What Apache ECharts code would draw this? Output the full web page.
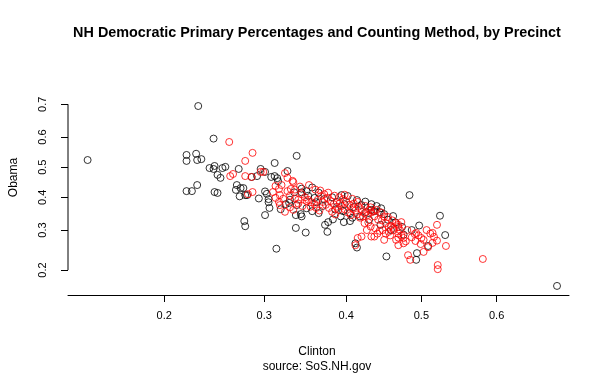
<!DOCTYPE html>
<html>
<head>
<meta charset="utf-8">
<script src="https://cdn.jsdelivr.net/npm/echarts@6/dist/echarts.min.js"></script>
<style>
html, body { margin: 0; padding: 0; background: #fff; }
#chart { width: 610px; height: 377px; }
</style>
</head>
<body>
<div id="chart"></div>
<script>
// share of the vote per precinct: [Clinton, Obama]
var handCounted = [
    [0.142, 0.524], [0.231, 0.695], [0.246, 0.595],
    [0.220, 0.541], [0.220, 0.521], [0.229, 0.545], [0.230, 0.524], [0.234, 0.527],
    [0.242, 0.497], [0.247, 0.504], [0.246, 0.494], [0.250, 0.474], [0.253, 0.464],
    [0.255, 0.497], [0.258, 0.501], [0.272, 0.494],
    [0.220, 0.420], [0.225, 0.420], [0.230, 0.440], [0.247, 0.417], [0.250, 0.414],
    [0.270, 0.440], [0.269, 0.424], [0.273, 0.403], [0.274, 0.430], [0.277, 0.430],
    [0.279, 0.407], [0.281, 0.407],
    [0.338, 0.538], [0.312, 0.514], [0.327, 0.487],
    [0.296, 0.494], [0.301, 0.484], [0.308, 0.467], [0.312, 0.470], [0.316, 0.453],
    [0.315, 0.463], [0.292, 0.470], [0.286, 0.467],
    [0.294, 0.396], [0.301, 0.419], [0.303, 0.411], [0.305, 0.394], [0.305, 0.384],
    [0.306, 0.366], [0.319, 0.362], [0.301, 0.344], [0.278, 0.326], [0.279, 0.311],
    [0.314, 0.250], [0.337, 0.344], [0.343, 0.347], [0.344, 0.340], [0.337, 0.306],
    [0.349, 0.293], [0.325, 0.378], [0.329, 0.382], [0.330, 0.392], [0.335, 0.416],
    [0.338, 0.375], [0.344, 0.416], [0.373, 0.315], [0.376, 0.295], [0.377, 0.323],
    [0.453, 0.231], [0.414, 0.253], [0.412, 0.264], [0.397, 0.323], [0.405, 0.326],
    [0.484, 0.407], [0.525, 0.342], [0.532, 0.286], [0.509, 0.257], [0.494, 0.239],
    [0.493, 0.223], [0.675, 0.168],
    [0.462, 0.341], [0.450, 0.347], [0.444, 0.353], [0.437, 0.356],
    [0.394, 0.407], [0.402, 0.404], [0.414, 0.391], [0.420, 0.375], [0.382, 0.400],
    [0.372, 0.394], [0.360, 0.398], [0.352, 0.405], [0.388, 0.385], [0.398, 0.378],
    [0.410, 0.369], [0.425, 0.386], [0.433, 0.378], [0.440, 0.372], [0.446, 0.365],
    [0.433, 0.360], [0.426, 0.353], [0.418, 0.340], [0.408, 0.336], [0.393, 0.340],
    [0.383, 0.331], [0.365, 0.350], [0.357, 0.356], [0.350, 0.365], [0.362, 0.384],
    [0.370, 0.372], [0.386, 0.361], [0.396, 0.356], [0.405, 0.350],
    [0.455, 0.330], [0.465, 0.322], [0.474, 0.309], [0.487, 0.300], [0.497, 0.313],
    [0.476, 0.287], [0.459, 0.300], [0.445, 0.315], [0.430, 0.330],
    [0.350, 0.420], [0.357, 0.432], [0.365, 0.415], [0.344, 0.428]
];
var machineCounted = [
    [0.262, 0.584], [0.287, 0.548], [0.279, 0.521],
    [0.263, 0.470], [0.266, 0.477], [0.279, 0.470], [0.286, 0.467], [0.296, 0.484],
    [0.299, 0.484], [0.324, 0.480], [0.327, 0.464], [0.287, 0.417], [0.282, 0.410],
    [0.310, 0.417], [0.313, 0.437], [0.318, 0.407], [0.317, 0.427], [0.320, 0.440],
    [0.333, 0.454], [0.334, 0.450], [0.331, 0.427], [0.324, 0.354],
    [0.415, 0.278], [0.412, 0.259], [0.420, 0.282], [0.433, 0.282], [0.441, 0.290],
    [0.448, 0.300], [0.450, 0.273], [0.437, 0.282], [0.456, 0.309], [0.462, 0.306],
    [0.469, 0.309], [0.469, 0.279], [0.466, 0.273],
    [0.582, 0.225], [0.521, 0.315], [0.533, 0.257], [0.522, 0.211], [0.522, 0.202],
    [0.515, 0.292], [0.517, 0.281], [0.521, 0.271], [0.515, 0.265], [0.503, 0.242],
    [0.509, 0.254], [0.503, 0.273], [0.500, 0.278], [0.482, 0.234], [0.485, 0.223],
    [0.493, 0.292], [0.491, 0.289], [0.481, 0.300], [0.473, 0.323], [0.469, 0.315],
    [0.471, 0.300], [0.459, 0.312], [0.463, 0.300], [0.456, 0.295], [0.469, 0.290],
    [0.473, 0.285], [0.476, 0.278], [0.479, 0.269], [0.476, 0.264], [0.469, 0.259],
    [0.424, 0.320], [0.429, 0.322], [0.422, 0.340], [0.433, 0.352], [0.437, 0.340],
    [0.442, 0.330], [0.440, 0.360], [0.446, 0.352], [0.450, 0.340],
    [0.344, 0.410], [0.348, 0.400], [0.352, 0.392], [0.356, 0.384], [0.360, 0.378],
    [0.364, 0.392], [0.368, 0.404], [0.372, 0.410], [0.376, 0.398], [0.380, 0.388],
    [0.384, 0.378], [0.388, 0.370], [0.392, 0.382], [0.396, 0.394], [0.400, 0.386],
    [0.404, 0.376], [0.408, 0.366], [0.412, 0.358], [0.416, 0.370], [0.420, 0.362],
    [0.424, 0.350], [0.428, 0.344], [0.432, 0.368], [0.436, 0.356],
    [0.340, 0.380], [0.345, 0.372], [0.350, 0.388], [0.355, 0.370], [0.362, 0.366],
    [0.366, 0.358], [0.370, 0.385], [0.374, 0.376], [0.378, 0.366], [0.382, 0.354],
    [0.386, 0.346], [0.390, 0.360], [0.394, 0.372], [0.398, 0.362], [0.402, 0.352],
    [0.406, 0.344], [0.410, 0.380], [0.414, 0.346], [0.418, 0.336],
    [0.330, 0.405], [0.336, 0.396], [0.340, 0.392], [0.327, 0.420], [0.336, 0.425],
    [0.342, 0.435], [0.353, 0.440], [0.361, 0.425], [0.367, 0.422], [0.377, 0.415],
    [0.385, 0.405], [0.391, 0.400], [0.322, 0.395], [0.317, 0.385], [0.313, 0.398],
    [0.318, 0.375], [0.330, 0.368], [0.334, 0.360], [0.408, 0.395], [0.415, 0.385],
    [0.425, 0.372], [0.430, 0.360], [0.398, 0.408],
    [0.452, 0.320], [0.447, 0.328], [0.455, 0.338], [0.461, 0.328], [0.466, 0.320],
    [0.458, 0.285], [0.452, 0.290], [0.444, 0.298], [0.438, 0.305], [0.432, 0.310],
    [0.427, 0.300], [0.487, 0.280], [0.496, 0.285], [0.499, 0.262], [0.492, 0.270],
    [0.507, 0.300], [0.512, 0.290]
];
var xTicks = [0.2, 0.3, 0.4, 0.5, 0.6];
var yTicks = [0.2, 0.3, 0.4, 0.5, 0.6, 0.7];
var xLimits = [0.1296, 0.689];
var yLimits = [0.1516, 0.809];

// both axes are on the logit scale
function logit(p) {
    return Math.log(p / (1 - p));
}
function invLogit(v) {
    return 1 / (1 + Math.exp(-v));
}
function toLogit(list) {
    return list.map(function (d) {
        return [logit(d[0]), logit(d[1])];
    });
}

var chart = echarts.init(document.getElementById('chart'));
var font = 'Liberation Sans, Arial, sans-serif';
var xMin = logit(xLimits[0]);

var option = {
    animation: false,
    title: [{
        text: 'NH Democratic Primary Percentages and Counting Method, by Precinct',
        left: 317, top: 26, textAlign: 'center', padding: 0,
        textStyle: {fontFamily: font, fontSize: 14.4, fontWeight: 'bold', color: '#000'}
    }, {
        text: 'Clinton',
        left: 317, top: 346, textAlign: 'center', padding: 0,
        textStyle: {fontFamily: font, fontSize: 12, fontWeight: 'normal', color: '#000'}
    }, {
        text: 'source: SoS.NH.gov',
        left: 317, top: 361, textAlign: 'center', padding: 0,
        textStyle: {fontFamily: font, fontSize: 12, fontWeight: 'normal', color: '#000'}
    }],
    grid: {left: 65, right: 41, top: 60, bottom: 82},
    xAxis: {
        type: 'value',
        min: logit(xLimits[0]),
        max: logit(xLimits[1]),
        splitLine: {show: false},
        axisLine: {onZero: false, lineStyle: {color: '#000', width: 1}},
        axisTick: {customValues: xTicks.map(logit), length: 7, lineStyle: {color: '#000'}},
        axisLabel: {
            customValues: xTicks.map(logit),
            margin: 15,
            fontFamily: font, fontSize: 11, color: '#000',
            formatter: function (v) { return invLogit(v).toFixed(1); }
        }
    },
    yAxis: {
        type: 'value',
        min: logit(yLimits[0]),
        max: logit(yLimits[1]),
        name: 'Obama',
        nameLocation: 'middle',
        nameRotate: 90,
        nameGap: 48,
        nameTextStyle: {fontFamily: font, fontSize: 12, color: '#000'},
        splitLine: {show: false},
        axisLine: {show: false, onZero: false},
        axisTick: {show: true, customValues: yTicks.map(logit), length: 7, lineStyle: {color: '#000'}},
        axisLabel: {
            customValues: yTicks.map(logit),
            rotate: 90,
            margin: 20,
            fontFamily: font, fontSize: 11, color: '#000',
            formatter: function (v) { return invLogit(v).toFixed(1); }
        }
    },
    series: [{
        name: 'y axis line',
        type: 'line',
        data: [[xMin, logit(yTicks[0])], [xMin, logit(yTicks[yTicks.length - 1])]],
        clip: false,
        symbol: 'none',
        silent: true,
        lineStyle: {color: '#000', width: 1}
    }, {
        name: 'Hand count',
        type: 'scatter',
        data: toLogit(handCounted),
        symbol: 'circle',
        symbolSize: 7,
        itemStyle: {color: 'rgba(0,0,0,0)', borderColor: '#000', borderWidth: 1},
        emphasis: {disabled: true}
    }, {
        name: 'Machine count',
        type: 'scatter',
        data: toLogit(machineCounted),
        symbol: 'circle',
        symbolSize: 7,
        itemStyle: {color: 'rgba(0,0,0,0)', borderColor: '#ff0000', borderWidth: 1},
        emphasis: {disabled: true}
    }]
};
chart.setOption(option);
</script>
</body>
</html>
